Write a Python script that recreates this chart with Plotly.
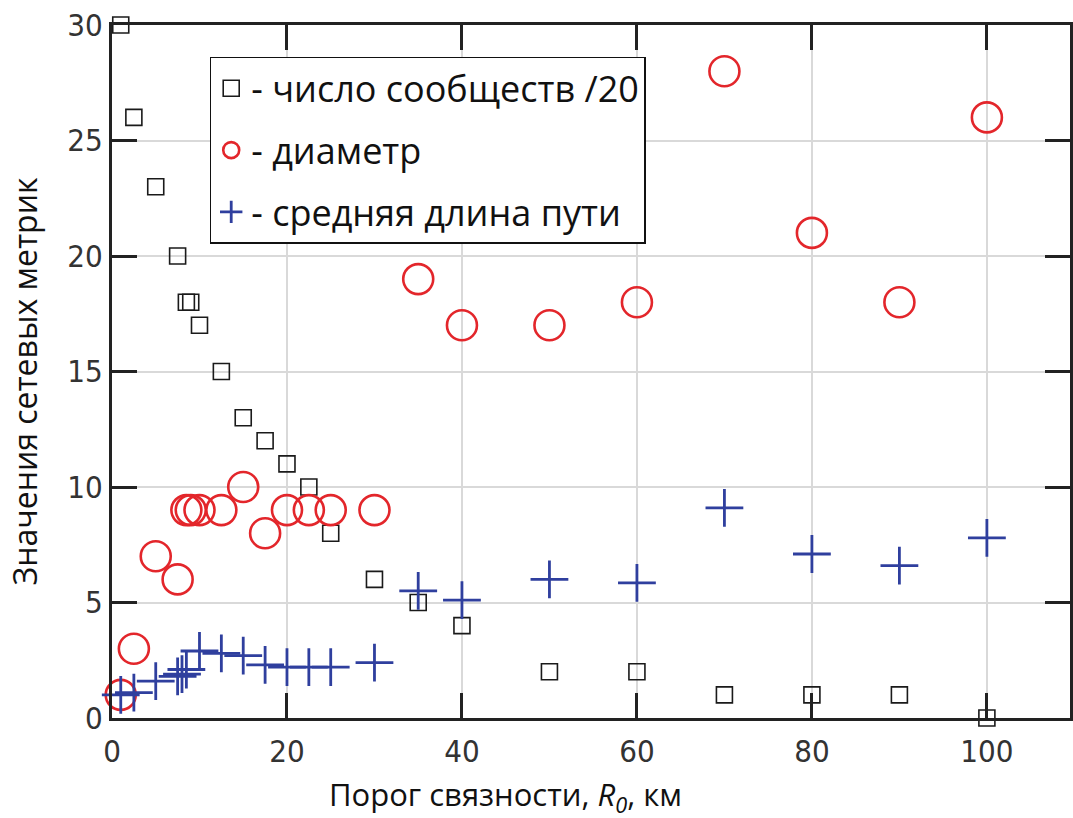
import plotly.graph_objects as go

# Data
x_comm = [1, 2.5, 5, 7.5, 8.5, 9, 10, 12.5, 15, 17.5, 20, 22.5, 25, 30, 35, 40, 50, 60, 70, 80, 90, 100]
y_comm = [30, 26, 23, 20, 18, 18, 17, 15, 13, 12, 11, 10, 8, 6, 5, 4, 2, 2, 1, 1, 1, 0]

x_diam = [1, 2.5, 5, 7.5, 8.5, 9, 10, 12.5, 15, 17.5, 20, 22.5, 25, 30, 35, 40, 50, 60, 70, 80, 90, 100]
y_diam = [1, 3, 7, 6, 9, 9, 9, 9, 10, 8, 9, 9, 9, 9, 19, 17, 17, 18, 28, 21, 18, 26]

x_path = [1, 2.5, 5, 7.5, 8, 8.5, 10, 12.5, 15, 17.5, 20, 22.5, 25, 30, 35, 40, 50, 60, 70, 80, 90, 100]
y_path = [1.0, 1.1, 1.6, 1.8, 1.9, 2.1, 2.9, 2.8, 2.7, 2.3, 2.2, 2.2, 2.2, 2.4, 5.5, 5.1, 6.0, 5.85, 9.1, 7.1, 6.6, 7.8]

x_ticks = [0, 20, 40, 60, 80, 100]
y_ticks = [0, 5, 10, 15, 20, 25, 30]

legend_names = ["- число сообществ /20", "- диаметр", "- средняя длина пути"]
x_title = "Порог связности, <i>R<sub>0</sub></i>, км"
y_title = "Значения сетевых метрик"

RED = "#e3262b"
BLUE = "#2f3f9e"
TEXT_FONT = "Open Sans, Noto Sans, sans-serif"

fig = go.Figure()
fig.add_trace(go.Scatter(
    x=x_comm, y=y_comm, mode="markers", name=legend_names[0], legendgroup="a",
    marker=dict(symbol="square-open", size=16, color="#1a1a1a", line=dict(width=1.6)),
    cliponaxis=False,
))
fig.add_trace(go.Scatter(
    x=x_diam, y=y_diam, mode="markers", name=legend_names[1], legendgroup="b",
    marker=dict(symbol="circle-open", size=30, color=RED, line=dict(width=2.6)),
    cliponaxis=False,
))
fig.add_trace(go.Scatter(
    x=x_path, y=y_path, mode="markers", name=legend_names[2], legendgroup="c",
    marker=dict(symbol="cross-thin-open", size=27, color=BLUE, line=dict(width=2.8, color=BLUE)),
    cliponaxis=False,
))

tick_font = dict(family="Liberation Sans Narrow, DejaVu Sans Condensed, Arial Narrow, sans-serif",
                 size=31, color="#333")

fig.update_layout(
    width=1073, height=818,
    margin=dict(l=112, r=0, t=25, b=100),
    paper_bgcolor="white", plot_bgcolor="white",
    showlegend=True,
    legend=dict(
        x=0.102, y=0.954, xanchor="left", yanchor="top",
        bgcolor="white", bordercolor="#111", borderwidth=1.5,
        font=dict(family=TEXT_FONT, size=36, color="#111"),
        traceorder="grouped", tracegroupgap=12,
        itemsizing="trace",
    ),
    xaxis=dict(
        range=[0, 109.5], tickvals=x_ticks, ticktext=[str(v) for v in x_ticks],
        showline=True, linewidth=3, linecolor="#222", mirror="ticks",
        ticks="inside", ticklen=25, tickwidth=2.5, tickcolor="#222",
        showgrid=True, gridcolor="#d9d9d9", gridwidth=1.5, zeroline=False,
        tickfont=tick_font, ticklabelstandoff=4,
    ),
    yaxis=dict(
        range=[0, 30], tickvals=y_ticks, ticktext=[str(v) for v in y_ticks],
        showline=True, linewidth=3, linecolor="#222", mirror="ticks",
        ticks="inside", ticklen=25, tickwidth=2.5, tickcolor="#222",
        showgrid=True, gridcolor="#d9d9d9", gridwidth=1.5, zeroline=False,
        tickfont=tick_font, ticklabelstandoff=0,
    ),
    annotations=[
        dict(text=x_title, xref="paper", yref="paper", x=0.411, y=-0.1126,
             xanchor="center", yanchor="middle", showarrow=False,
             font=dict(family=TEXT_FONT, size=31, color="#111")),
        dict(text=y_title, xref="paper", yref="paper", x=-0.0916, y=0.486,
             xanchor="center", yanchor="middle", textangle=-90, showarrow=False,
             font=dict(family=TEXT_FONT, size=32, color="#111")),
    ],
)

fig.write_html("out.html", config={"displayModeBar": False},
               post_script="document.body.style.margin='0';")
